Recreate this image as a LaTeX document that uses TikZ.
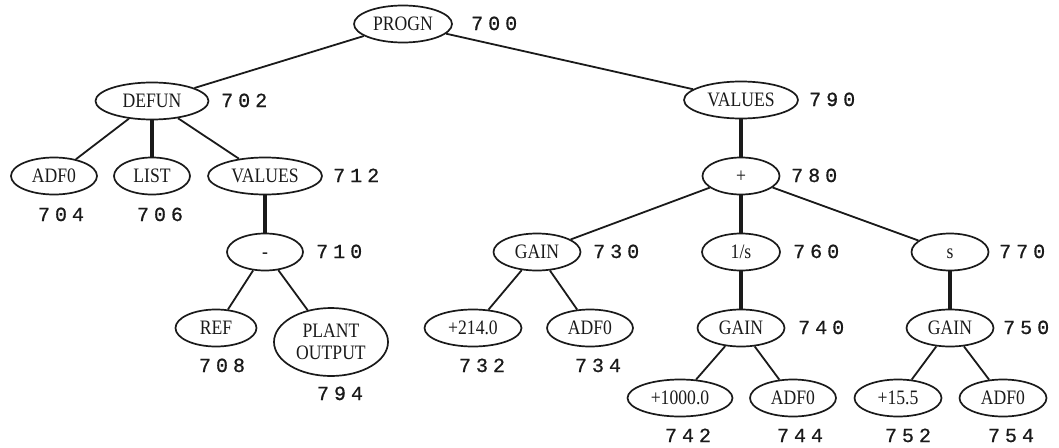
\documentclass[tikz,border=0pt]{standalone}
\usepackage{fontspec}
\setmainfont{Liberation Serif}[FakeStretch=0.86]
\newfontfamily\labfont{Liberation Mono}[LetterSpace=25,FakeBold=0.8]
\usetikzlibrary{shapes.geometric}
\definecolor{ink}{HTML}{1A1A1A}
\tikzset{
  ell/.style={ellipse, draw=ink, line width=1.7pt, inner sep=0pt, minimum height=37pt,
    font=\fontsize{20.5}{22}\selectfont, text=ink},
  nd/.style={ell, text height=13pt, text depth=0pt},
  lab/.style={font=\labfont\fontsize{20}{22}\selectfont, text=ink, inner sep=0pt,
    text height=12pt, text depth=0pt},
  sidelab/.style={lab, anchor=west},
  ln/.style={draw=ink, line width=1.8pt},
  lnk/.style={draw=ink, line width=3.2pt}
}
\begin{document}
\begin{tikzpicture}[x=1pt,y=-1pt]
\useasboundingbox (0,0) rectangle (1059,447);
% nodes
\node[nd, minimum width=98pt] (progn) at (403,24) {PROGN};
\node[nd, minimum width=113pt] (defun) at (152,101) {DEFUN};
\node[nd, minimum width=114pt] (val790) at (741,100) {VALUES};
\node[nd, minimum width=86pt] (adf704) at (54,176) {ADF0};
\node[nd, minimum width=76pt] (list) at (152,176) {LIST};
\node[nd, minimum width=114pt] (val712) at (265,176) {VALUES};
\node[nd, minimum width=77pt] (plus) at (741,176) {+};
\node[nd, minimum width=76pt] (minus) at (265,252) {-};
\node[nd, minimum width=87pt] (g730) at (537,252) {GAIN};
\node[nd, minimum width=78pt] (invs) at (741,252) {1/s};
\node[nd, minimum width=77pt] (sn) at (950,252) {s};
\node[nd, minimum width=81pt] (ref) at (216,328) {REF};
\node[ell, minimum width=114pt, minimum height=68pt, align=center] (plant) at (331,342) {PLANT\\OUTPUT};
\node[nd, minimum width=97pt] (c214) at (473,328) {+214.0};
\node[nd, minimum width=86pt] (adf734) at (590,328) {ADF0};
\node[nd, minimum width=87pt] (g740) at (741,328) {GAIN};
\node[nd, minimum width=87pt] (g750) at (950,328) {GAIN};
\node[nd, minimum width=105pt] (c1000) at (680,398) {+1000.0};
\node[nd, minimum width=86pt] (adf744) at (793,398) {ADF0};
\node[nd, minimum width=87pt] (c155) at (898,398) {+15.5};
\node[nd, minimum width=87pt] (adf754) at (1003,398) {ADF0};
% labels
\node[sidelab] (l700) at (471,24) {700};
\node[sidelab] (l702) at (221,101) {702};
\node[sidelab] (l712) at (333,176) {712};
\node[sidelab] (l790) at (809,100) {790};
\node[sidelab] (l780) at (791,176) {780};
\node[sidelab] (l710) at (316,252) {710};
\node[sidelab] (l730) at (593,252) {730};
\node[sidelab] (l760) at (793,252) {760};
\node[sidelab] (l770) at (999,252) {770};
\node[sidelab] (l740) at (798,328) {740};
\node[sidelab] (l750) at (1003,328) {750};
\node[lab] (l704) at (61,215) {704};
\node[lab] (l706) at (160,215) {706};
\node[lab] (l708) at (222,366) {708};
\node[lab] (l794) at (340,394) {794};
\node[lab] (l732) at (482,366) {732};
\node[lab] (l734) at (598,366) {734};
\node[lab] (l742) at (688,436) {742};
\node[lab] (l744) at (800,436) {744};
\node[lab] (l752) at (908,436) {752};
\node[lab] (l754) at (1011,436) {754};
% edges
\draw[ln] (progn) -- (defun);
\draw[ln] (progn) -- (val790);
\draw[ln] (defun) -- (adf704);
\draw[lnk] (defun) -- (list);
\draw[ln] (defun) -- (val712);
\draw[lnk] (val712) -- (minus);
\draw[ln] (minus) -- (ref);
\draw[ln] (minus) -- (plant);
\draw[lnk] (val790) -- (plus);
\draw[ln] (plus) -- (g730);
\draw[lnk] (plus) -- (invs);
\draw[ln] (plus) -- (sn);
\draw[ln] (g730) -- (c214);
\draw[ln] (g730) -- (adf734);
\draw[lnk] (invs) -- (g740);
\draw[lnk] (sn) -- (g750);
\draw[ln] (g740) -- (c1000);
\draw[ln] (g740) -- (adf744);
\draw[ln] (g750) -- (c155);
\draw[ln] (g750) -- (adf754);
\end{tikzpicture}
\end{document}
